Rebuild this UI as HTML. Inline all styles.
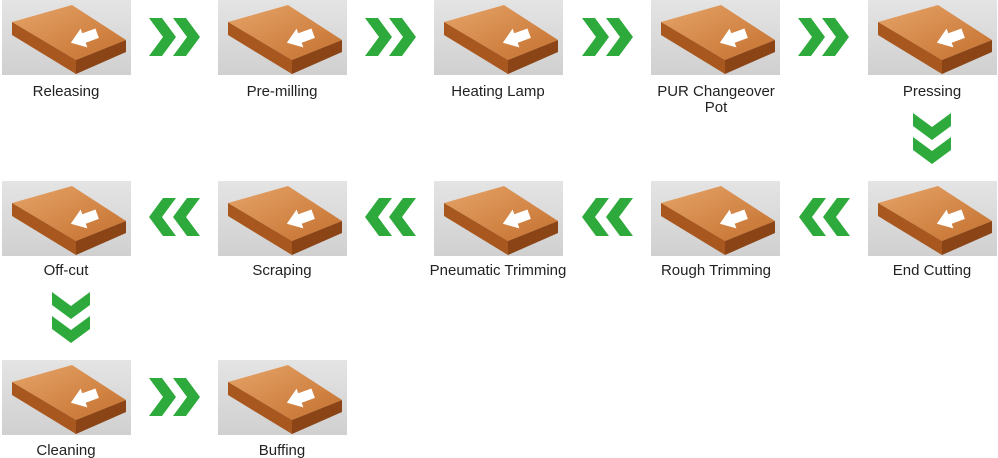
<!DOCTYPE html>
<html><head><meta charset="utf-8"><style>
html,body{margin:0;padding:0;background:#fff;width:998px;height:458px;overflow:hidden}
text{font-family:"Liberation Sans",Arial,sans-serif;font-size:15px;fill:#222}
</style></head><body>
<svg width="998" height="458" viewBox="0 0 998 458" xmlns="http://www.w3.org/2000/svg">
<defs>
<linearGradient id="bg" x1="0" y1="0" x2="0" y2="1"><stop offset="0" stop-color="#e4e4e4"/><stop offset="1" stop-color="#d0d0d0"/></linearGradient>
<linearGradient id="wood" x1="0" y1="0" x2="1" y2="1"><stop offset="0" stop-color="#e6a468"/><stop offset="1" stop-color="#c4702e"/></linearGradient>
<g id="tile">
<rect width="129" height="75" fill="url(#bg)"/>
<polygon points="10,22 70,5 124,40 74,60" fill="url(#wood)"/>
<polygon points="10,22 74,60 74,74 10,35" fill="#a8581e"/>
<polygon points="74,60 124,40 124,52 74,74" fill="#8a4416"/>
<polygon points="68,38 82,28 82,33 96,33 96,43 82,43 82,48" fill="#fff" transform="rotate(-20 82 38)"/>
</g>
<g id="chev">
<polygon points="0,0 13,0 27,19 13,38 0,38 14,19" fill="#2eaa3c"/>
<polygon points="24,0 37,0 51,19 37,38 24,38 38,19" fill="#2eaa3c"/>
</g>
<g id="chevd">
<polygon points="0,0 0,13 19,27 38,13 38,0 19,14" fill="#2eaa3c"/>
<polygon points="0,24 0,37 19,51 38,37 38,24 19,38" fill="#2eaa3c"/>
</g>
</defs>
<use href="#tile" x="2" y="0"/><use href="#tile" x="218" y="0"/><use href="#tile" x="434" y="0"/><use href="#tile" x="651" y="0"/><use href="#tile" x="868" y="0"/>
<use href="#tile" x="2" y="181"/><use href="#tile" x="218" y="181"/><use href="#tile" x="434" y="181"/><use href="#tile" x="651" y="181"/><use href="#tile" x="868" y="181"/>
<use href="#tile" x="2" y="360"/><use href="#tile" x="218" y="360"/>
<use href="#chev" x="149" y="18"/><use href="#chev" x="365" y="18"/><use href="#chev" x="582" y="18"/><use href="#chev" x="798" y="18"/>
<g transform="translate(998,0) scale(-1,1)">
<use href="#chev" x="148" y="198"/><use href="#chev" x="365" y="198"/><use href="#chev" x="582" y="198"/><use href="#chev" x="798" y="198"/>
</g>
<use href="#chev" x="149" y="378"/>
<use href="#chevd" x="913" y="113"/><use href="#chevd" x="52" y="292"/>
<g text-anchor="middle">
<text x="66" y="96">Releasing</text>
<text x="282" y="96">Pre-milling</text>
<text x="498" y="96">Heating Lamp</text>
<text x="716" y="96">PUR Changeover</text>
<text x="716" y="112">Pot</text>
<text x="932" y="96">Pressing</text>
<text x="66" y="275">Off-cut</text>
<text x="282" y="275">Scraping</text>
<text x="498" y="275">Pneumatic Trimming</text>
<text x="716" y="275">Rough Trimming</text>
<text x="932" y="275">End Cutting</text>
<text x="66" y="455">Cleaning</text>
<text x="282" y="455">Buffing</text>
</g>
</svg>
</body></html>
